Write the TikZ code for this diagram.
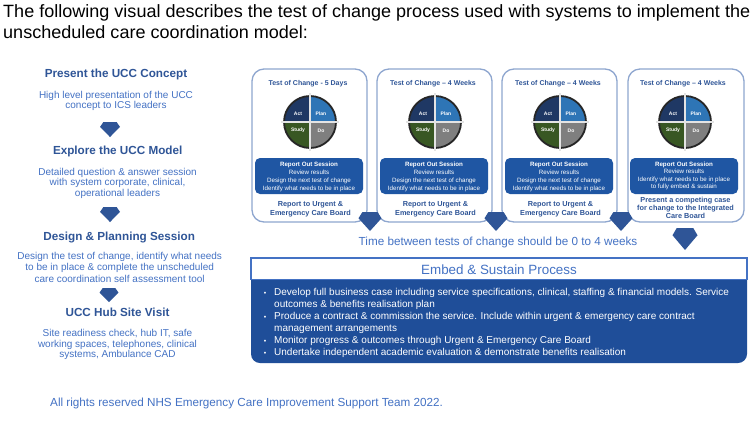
\documentclass[tikz,border=0pt]{standalone}
\usepackage{fontspec}
\setmainfont{Liberation Sans}
\usepackage{graphicx}
\definecolor{hdblue}{HTML}{2F5597}
\definecolor{txblue}{HTML}{4472C4}
\definecolor{cardline}{HTML}{8EA6CF}
\definecolor{rptblue}{HTML}{1F56A3}
\definecolor{gemblue}{HTML}{2F5597}
\definecolor{actc}{HTML}{1F3864}
\definecolor{planc}{HTML}{2E75B6}
\definecolor{studyc}{HTML}{385723}
\definecolor{doc}{HTML}{7F7F7F}
\definecolor{ringc}{HTML}{262626}
\definecolor{crossc}{HTML}{E4E4E4}
\definecolor{embedblue}{HTML}{1F4E99}
\newlength\hdrw
\newcommand\gem[4]{\fill[gemblue] ({#1-0.33*#3},{#2-0.5*#4}) -- ({#1+0.33*#3},{#2-0.5*#4}) -- ({#1+0.5*#3},{#2-0.17*#4}) -- (#1,{#2+0.5*#4}) -- ({#1-0.5*#3},{#2-0.17*#4}) -- cycle;}
\newcommand\pdsa[3]{%
  \begin{scope}
    \clip (#1,#2) circle[radius=26];
    \fill[actc] ({#1-27},{#2-27}) rectangle (#1,#2);
    \fill[planc] (#1,{#2-27}) rectangle ({#1+27},#2);
    \fill[studyc] ({#1-27},#2) rectangle (#1,{#2+27});
    \fill[doc] (#1,#2) rectangle ({#1+27},{#2+27});
  \end{scope}
  \draw[ringc,line width=1.8pt] (#1,#2) circle[radius=26];
  \draw[crossc,line width=1.2pt] ({#1-29},#2) -- ({#1+29},#2) (#1,{#2-29}) -- (#1,{#2+29});
  \node[pd] (#3a) at ({#1-12},{#2-8.5}) {Act};
  \node[pd] (#3p) at ({#1+11},{#2-8.5}) {Plan};
  \node[pd] (#3s) at ({#1-12},{#2+8.5}) {Study};
  \node[pd] (#3d) at ({#1+11},{#2+8.5}) {Do};
}
\tikzset{
  hd/.style={font=\fontsize{11.7}{14}\selectfont\bfseries, text=hdblue, inner sep=0pt, anchor=base},
  bd/.style={font=\fontsize{10}{12}\selectfont, text=txblue, inner sep=0pt, anchor=base},
  ctitle/.style={font=\fontsize{7}{8}\selectfont\bfseries, text=hdblue, inner sep=0pt, anchor=base},
  rpt/.style={font=\fontsize{6.2}{7}\selectfont, text=white, inner sep=0pt, anchor=base},
  rptb/.style={font=\fontsize{6.2}{7}\selectfont\bfseries, text=white, inner sep=0pt, anchor=base},
  cbot/.style={font=\fontsize{7.3}{8}\selectfont\bfseries, text=hdblue, inner sep=0pt, anchor=base},
  pd/.style={font=\fontsize{5}{6}\selectfont\bfseries, text=white, inner sep=0pt},
  card/.style={draw=cardline, line width=1.3pt, rounded corners=12pt, fill=white, inner sep=0pt},
  rbox/.style={fill=rptblue, rounded corners=5pt, inner sep=0pt},
  bul/.style={font=\fontsize{10}{12}\selectfont, text=white, inner sep=0pt, anchor=base west},
  dot/.style={font=\fontsize{7}{8}\selectfont, text=white, inner sep=0pt, anchor=base},
}
\begin{document}%
\settowidth{\hdrw}{\fontsize{17.8}{20}\selectfont The following visual describes the test of change process used with systems to implement the}%
\begin{tikzpicture}[x=1pt,y=-1pt]
\pgfmathsetmacro\hxs{747/\hdrw}
\useasboundingbox[fill=white] (0,0) rectangle (754,424);
% header
\node[anchor=base west, inner sep=0pt, font=\fontsize{17.8}{20}\selectfont] (h1) at (3,17) {\scalebox{\hxs}[1]{The following visual describes the test of change process used with systems to implement the}};
\node[anchor=base west, inner sep=0pt, font=\fontsize{17.8}{20}\selectfont] (h2) at (3,38) {\scalebox{\hxs}[1]{unscheduled care coordination model:}};
% left column
\node[hd] (l1) at (116,77) {Present the UCC Concept};
\node[bd] (l1a) at (116,98) {High level presentation of the UCC};
\node[bd] (l1b) at (116,108.5) {concept to ICS leaders};
\gem{110}{129.5}{20}{15}
\node[hd] (l2) at (117.7,154.3) {Explore the UCC Model};
\node[bd] (l2a) at (117.5,175) {Detailed question \& answer session};
\node[bd] (l2b) at (117.5,185.7) {with system corporate, clinical,};
\node[bd] (l2c) at (117.5,196.3) {operational leaders};
\gem{110}{214.5}{20}{15}
\node[hd] (l3) at (119.2,240) {Design \& Planning Session};
\node[bd] (l3a) at (119.7,259.3) {Design the test of change, identify what needs};
\node[bd] (l3b) at (119.7,270.7) {to be in place \& complete the unscheduled};
\node[bd] (l3c) at (119.7,282) {care coordination self assessment tool};
\gem{109}{295}{19}{14}
\node[hd] (l4) at (117.5,316.7) {UCC Hub Site Visit};
\node[bd] (l4a) at (117.5,336) {Site readiness check, hub IT, safe};
\node[bd] (l4b) at (117.5,347.3) {working spaces, telephones, clinical};
\node[bd] (l4c) at (117.5,357.8) {systems, Ambulance CAD};
% cards 1-3
\foreach \i/\x/\cx/\ttl in {1/252/310/{Test of Change - 5 Days}, 2/377/435/{Test of Change – 4 Weeks}, 3/502/560/{Test of Change – 4 Weeks}} {
  \node[card, minimum width=115pt, minimum height=153pt] (c\i) at ({\x+57.5},145.5) {};
  \node[ctitle] (c\i-t) at ({\cx-2},85) {\ttl};
  \pdsa{\cx}{122}{c\i-}
  \node[rbox, minimum width=108pt, minimum height=36pt] (c\i-box) at ({\cx-1},176) {};
  \node[rptb] (c\i-r1) at ({\cx-1},166.5) {Report Out Session};
  \node[rpt] (c\i-r2) at ({\cx-1},174.5) {Review results};
  \node[rpt] (c\i-r3) at ({\cx-1},182.3) {Design the next test of change};
  \node[rpt] (c\i-r4) at ({\cx-1},190.3) {Identify what needs to be in place};
  \node[cbot] (c\i-b1) at ({\cx+0.5},206.5) {Report to Urgent \&};
  \node[cbot] (c\i-b2) at ({\cx+0.5},215) {Emergency Care Board};
}
% card 4
\node[card, minimum width=116pt, minimum height=153pt] (c4) at (686,145.5) {};
\node[ctitle] (c4-t) at (683,85) {Test of Change – 4 Weeks};
\pdsa{685}{122}{c4-}
\node[rbox, minimum width=108pt, minimum height=36pt] (c4-box) at (684,176) {};
\node[rptb] (c4-r1) at (684,166) {Report Out Session};
\node[rpt] (c4-r2) at (684,173.5) {Review results};
\node[rpt] (c4-r3) at (684,181) {Identify what needs to be in place};
\node[rpt] (c4-r4) at (684,188.7) {to fully embed \& sustain};
\node[cbot] (c4-b1) at (685.5,202.7) {Present a competing case};
\node[cbot] (c4-b2) at (685.5,210.7) {for change to the Integrated};
\node[cbot] (c4-b3) at (685.5,218.5) {Care Board};
% diamonds between cards
\gem{370}{221.5}{23}{19}
\gem{496}{221.5}{23}{19}
\gem{621}{221.5}{23}{19}
\gem{685}{239}{25}{22}
\node[font=\fontsize{11.7}{14}\selectfont, text=txblue, inner sep=0pt, anchor=base] (gap) at (498,245.7) {Time between tests of change should be 0 to 4 weeks};
% embed & sustain
\fill[embedblue, rounded corners=9pt] (251,270) rectangle (747,363);
\node[draw=txblue, fill=white, line width=1.3pt, minimum width=496pt, minimum height=21.5pt, inner sep=0pt] (emh) at (499,268.75) {};
\node[font=\fontsize{13.4}{16}\selectfont, text=txblue, inner sep=0pt, anchor=base] (emt) at (499,274.3) {Embed \& Sustain Process};
\node[dot] (d1) at (265,295) {•};
\node[bul] (e1) at (274,295) {Develop full business case including service specifications, clinical, staffing \& financial models. Service};
\node[bul] (e1b) at (274,307) {outcomes \& benefits realisation plan};
\node[dot] (d2) at (265,319.3) {•};
\node[bul] (e2) at (274,319.3) {Produce a contract \& commission the service. Include within urgent \& emergency care contract};
\node[bul] (e2b) at (274,331) {management arrangements};
\node[dot] (d3) at (265,343.3) {•};
\node[bul] (e3) at (274,343.3) {Monitor progress \& outcomes through Urgent \& Emergency Care Board};
\node[dot] (d4) at (265,355) {•};
\node[bul] (e4) at (274,355) {Undertake independent academic evaluation \& demonstrate benefits realisation};
% footer
\node[font=\fontsize{11.7}{14}\selectfont, text=txblue, inner sep=0pt, anchor=base west] (ft) at (50,406) {All rights reserved NHS Emergency Care Improvement Support Team 2022.};
\end{tikzpicture}%
\end{document}
